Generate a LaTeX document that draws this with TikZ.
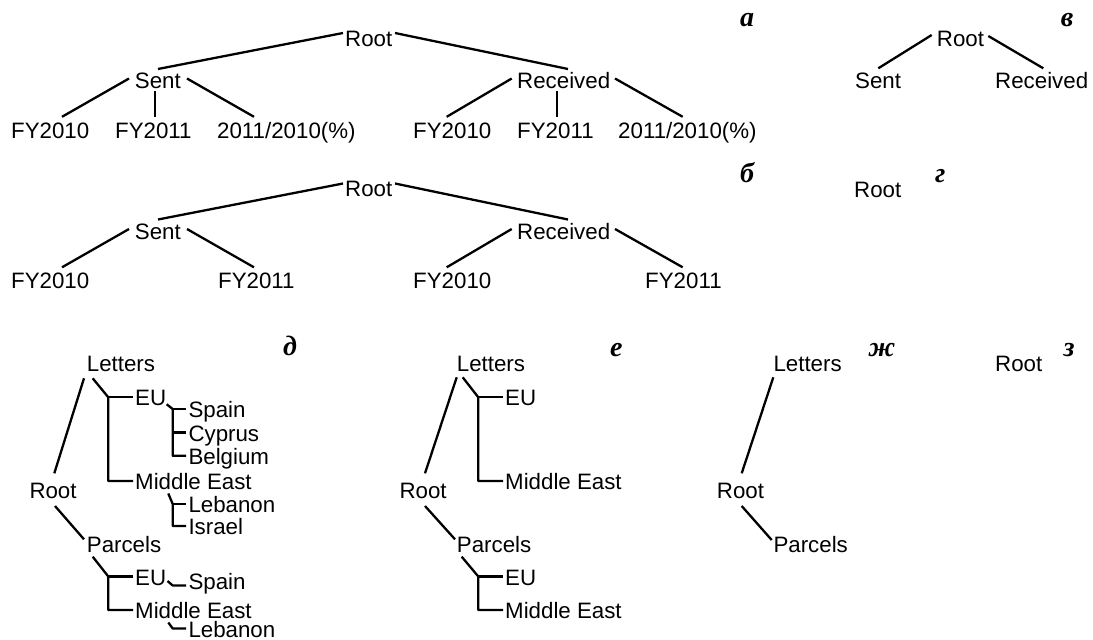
\documentclass[tikz,border=0pt]{standalone}
\usepackage{fontspec}
\setmainfont{Liberation Sans}
\newfontfamily\labfont{Liberation Serif}
\begin{document}
\begin{tikzpicture}[x=1pt,y=-1pt,
  txt/.style={anchor=base west, inner sep=0pt, font=\fontsize{22.3}{26}\selectfont},
  lab/.style={anchor=base west, inner sep=0pt, font=\labfont\bfseries\itshape\fontsize{28}{30}\selectfont},
  ln/.style={line width=2.3pt, line join=round}]
\useasboundingbox (0,0) rectangle (1093,640);

% ---------- tree a ----------
\node[txt] (ra) at (345,46) {Root};
\node[txt] (sa) at (134.7,88.5) {Sent};
\node[txt] (rca) at (517,88.5) {Received};
\node[txt] (a1) at (11,138.3) {FY2010};
\node[txt] (a2) at (115,138.3) {FY2011};
\node[txt] (a3) at (217,138.3) {2011/2010(\%)};
\node[txt] (a4) at (413,138.3) {FY2010};
\node[txt] (a5) at (517,138.3) {FY2011};
\node[txt] (a6) at (618,138.3) {2011/2010(\%)};
\draw[ln] ([shift={(-2,-13)}]ra.base west) -- ([shift={(23.3,-19.5)}]sa.base west);
\draw[ln] ([shift={(50,-13)}]ra.base west) -- ([shift={(51,-19.5)}]rca.base west);
\draw[ln] ([shift={(-5.7,-10)}]sa.base west) -- ([shift={(51,-21.5)}]a1.base west);
\draw[ln] ([shift={(20.3,2.5)}]sa.base west) -- ([shift={(40,-21.5)}]a2.base west);
\draw[ln] ([shift={(52.3,-10)}]sa.base west) -- ([shift={(37,-21.5)}]a3.base west);
\draw[ln] ([shift={(-5.3,-10)}]rca.base west) -- ([shift={(33.7,-21.5)}]a4.base west);
\draw[ln] ([shift={(39.7,2.5)}]rca.base west) -- ([shift={(39.7,-21.5)}]a5.base west);
\draw[ln] ([shift={(98,-10)}]rca.base west) -- ([shift={(64.7,-21.5)}]a6.base west);
\node[lab] (la) at (740,26) {а};

% ---------- tree b ----------
\node[txt] (rb) at (345,196.5) {Root};
\node[txt] (sb) at (134.7,239) {Sent};
\node[txt] (rcb) at (517,239) {Received};
\node[txt] (b1) at (11,288.8) {FY2010};
\node[txt] (b2) at (218,288.8) {FY2011};
\node[txt] (b3) at (413,288.8) {FY2010};
\node[txt] (b4) at (645,288.8) {FY2011};
\draw[ln] ([shift={(-2,-13)}]rb.base west) -- ([shift={(23.3,-19.5)}]sb.base west);
\draw[ln] ([shift={(50,-13)}]rb.base west) -- ([shift={(51,-19.5)}]rcb.base west);
\draw[ln] ([shift={(-5.7,-10)}]sb.base west) -- ([shift={(51,-21.5)}]b1.base west);
\draw[ln] ([shift={(52.3,-10)}]sb.base west) -- ([shift={(36,-21.5)}]b2.base west);
\draw[ln] ([shift={(-5.3,-10)}]rcb.base west) -- ([shift={(33.7,-21.5)}]b3.base west);
\draw[ln] ([shift={(98,-10)}]rcb.base west) -- ([shift={(37.7,-21.5)}]b4.base west);
\node[lab] (lb) at (740,182.3) {б};

% ---------- tree v ----------
\node[txt] (rv) at (936.7,46.5) {Root};
\node[txt] (sv) at (855,88.3) {Sent};
\node[txt] (rcv) at (995,88.3) {Received};
\draw[ln] ([shift={(-5,-11.5)}]rv.base west) -- ([shift={(23.3,-20)}]sv.base west);
\draw[ln] ([shift={(51.6,-10.5)}]rv.base west) -- ([shift={(48.3,-20)}]rcv.base west);
\node[lab] (lv) at (1060.7,26) {в};

% ---------- tree g ----------
\node[txt] (rg) at (854,197) {Root};
\node[lab] (lg) at (935,182.3) {г};

% ---------- tree d ----------
\node[txt] (dR) at (29.3,498) {Root};
\node[txt] (dL) at (86.7,371.7) {Letters};
\node[txt] (dEU) at (135,405.3) {EU};
\node[txt] (dSp) at (188.3,417.5) {Spain};
\node[txt] (dCy) at (188.3,441) {Cyprus};
\node[txt] (dBe) at (188.3,464.3) {Belgium};
\node[txt] (dME) at (135,489) {Middle East};
\node[txt] (dLe) at (188.3,512.5) {Lebanon};
\node[txt] (dIs) at (188.3,534.5) {Israel};
\node[txt] (dP) at (86.7,552) {Parcels};
\node[txt] (dEU2) at (135,585) {EU};
\node[txt] (dSp2) at (188.3,589.3) {Spain};
\node[txt] (dME2) at (135,618.5) {Middle East};
\node[txt] (dLe2) at (188.3,637) {Lebanon};
\draw[ln] ([shift={(25,-24.7)}]dR.base west) -- ([shift={(-2.7,6.6)}]dL.base west);
\draw[ln] ([shift={(6,6.6)}]dL.base west) -- ([shift={(-26.7,-8)}]dEU.base west) |- ([shift={(-2,-8)}]dME.base west);
\draw[ln] ([shift={(-26.7,-8)}]dEU.base west) -- ([shift={(-2,-8)}]dEU.base west);
\draw[ln] ([shift={(31.7,-1)}]dEU.base west) -- ([shift={(-15.6,-8.5)}]dSp.base west) |- ([shift={(-2.3,-8.5)}]dBe.base west);
\draw[ln] ([shift={(-15.6,-8.5)}]dSp.base west) -- ([shift={(-2.3,-8.5)}]dSp.base west);
\draw[ln] ([shift={(-15.6,-8.5)}]dCy.base west) -- ([shift={(-2.3,-8.5)}]dCy.base west);
\draw[ln] ([shift={(33.3,4.5)}]dME.base west) -- ([shift={(-15.6,-8.5)}]dLe.base west) |- ([shift={(-2.3,-8.5)}]dIs.base west);
\draw[ln] ([shift={(-15.6,-8.5)}]dLe.base west) -- ([shift={(-2.3,-8.5)}]dLe.base west);
\draw[ln] ([shift={(25.7,8)}]dR.base west) -- ([shift={(-2.7,-12.7)}]dP.base west);
\draw[ln] ([shift={(6,4.7)}]dP.base west) -- ([shift={(-26.7,-8.5)}]dEU2.base west) |- ([shift={(-2,-8.5)}]dME2.base west);
\draw[ln] ([shift={(-26.7,-8.5)}]dEU2.base west) -- ([shift={(-2,-8.5)}]dEU2.base west);
\draw[ln] ([shift={(32.5,-4)}]dEU2.base west) -- ([shift={(-15.6,-3.8)}]dSp2.base west) -- ([shift={(-2.3,-3.8)}]dSp2.base west);
\draw[ln] ([shift={(33.3,4)}]dME2.base west) -- ([shift={(-15.6,-8.5)}]dLe2.base west) -- ([shift={(-2.3,-8.5)}]dLe2.base west);
\node[lab] (ld) at (283,355) {д};

% ---------- tree e ----------
\node[txt] (eR) at (399.3,498) {Root};
\node[txt] (eL) at (456.7,371.7) {Letters};
\node[txt] (eEU) at (505,405.3) {EU};
\node[txt] (eME) at (505,489) {Middle East};
\node[txt] (eP) at (456.7,552) {Parcels};
\node[txt] (eEU2) at (505,585) {EU};
\node[txt] (eME2) at (505,618.5) {Middle East};
\draw[ln] ([shift={(25.7,-24.7)}]eR.base west) -- ([shift={(0,5.6)}]eL.base west);
\draw[ln] ([shift={(6,5.6)}]eL.base west) -- ([shift={(-26.7,-8)}]eEU.base west) |- ([shift={(-2,-8)}]eME.base west);
\draw[ln] ([shift={(-26.7,-8)}]eEU.base west) -- ([shift={(-2,-8)}]eEU.base west);
\draw[ln] ([shift={(25.7,8)}]eR.base west) -- ([shift={(-1.7,-12.7)}]eP.base west);
\draw[ln] ([shift={(5,4.7)}]eP.base west) -- ([shift={(-26.7,-8.5)}]eEU2.base west) |- ([shift={(-2,-8.5)}]eME2.base west);
\draw[ln] ([shift={(-26.7,-8.5)}]eEU2.base west) -- ([shift={(-2,-8.5)}]eEU2.base west);
\node[lab] (le) at (610,356) {е};

% ---------- tree zh ----------
\node[txt] (jR) at (716.7,498) {Root};
\node[txt] (jL) at (773.3,371.7) {Letters};
\node[txt] (jP) at (773.3,552) {Parcels};
\draw[ln] ([shift={(25,-24.7)}]jR.base west) -- ([shift={(0,5.6)}]jL.base west);
\draw[ln] ([shift={(25,8)}]jR.base west) -- ([shift={(-1.6,-12)}]jP.base west);
\node[lab] (lj) at (868.3,356) {ж};

% ---------- tree z ----------
\node[txt] (zR) at (995,371.7) {Root};
\node[lab] (lz) at (1063.3,356) {з};
\end{tikzpicture}
\end{document}
